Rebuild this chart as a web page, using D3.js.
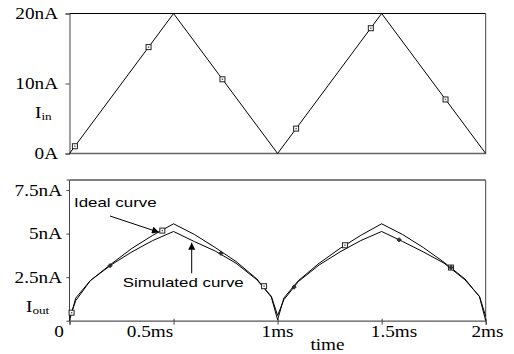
<!DOCTYPE html>
<html>
<head>
<meta charset="utf-8">
<script src="https://cdn.jsdelivr.net/npm/d3@7"></script>
<style>
  html, body { margin: 0; padding: 0; background: #fff; }
  svg { display: block; }
  .serif { font-family: "Liberation Serif", "Times New Roman", serif; fill: #000; }
  .sans { font-family: "Liberation Sans", Arial, sans-serif; fill: #000; }
</style>
</head>
<body>
<svg id="chart" width="514" height="354"></svg>
<script>
// ---- Input current: triangle wave (nA) ----
const inTimes  = [0, 0.5, 1.0, 1.5, 2.0];           // ms
const inValues = [0, 20, 0, 20, 0];                  // nA
const inMarkTimes  = [0.026, 0.38, 0.735, 1.089, 1.448, 1.807];
const inMarkValues = [1.04, 15.2, 10.6, 3.56, 17.9, 7.72];

// ---- Output current (nA) ----
const outTimes = [0, 0.03, 0.1, 0.2, 0.3, 0.4, 0.5, 0.6, 0.7, 0.8, 0.9, 0.97, 1.0,
                  1.03, 1.1, 1.2, 1.3, 1.4, 1.5, 1.6, 1.7, 1.8, 1.9, 1.97, 2.0];
const idealValues = [0, 1.3, 2.3, 3.25, 4.15, 4.9, 5.56, 4.95, 4.2, 3.4, 2.4, 1.35, 0.05,
                     1.3, 2.3, 3.3, 4.15, 4.9, 5.56, 4.95, 4.2, 3.35, 2.4, 1.38, 0];
const simValues   = [0.15, 1.15, 2.3, 3.2, 3.95, 4.6, 5.12, 4.54, 4.0, 3.3, 2.35, 1.4, 0.3,
                     1.2, 2.25, 3.2, 3.95, 4.6, 5.12, 4.55, 3.95, 3.3, 2.35, 1.4, 0.25];
const idealMarkTimes  = [0.01, 0.446, 0.935, 1.324, 1.833];
const idealMarkValues = [0.46, 5.17, 1.98, 4.33, 3.05];
const simMarkTimes    = [0.195, 0.728, 1.079, 1.584, 1.833];
const simMarkValues   = [3.16, 3.87, 1.93, 4.64, 3.05];

// ---- Tick labels ----
const inTickValues  = [0, 10, 20];
const inTickLabels  = ["0A", "10nA", "20nA"];
const outTickValues = [0, 2.5, 5, 7.5];
const outTickLabels = ["", "2.5nA", "5nA", "7.5nA"];
const timeTickValues = [0, 0.5, 1, 1.5, 2];
const timeTickLabels = ["0", "0.5ms", "1ms", "1.5ms", "2ms"];

const svg = d3.select("#chart");

const x = d3.scaleLinear().domain([0, 2]).range([69.5, 485.7]);
const yIn = d3.scaleLinear().domain([0, 20]).range([153.5, 13.5]);
const yOut = d3.scaleLinear().domain([0, 7.5]).range([320.7, 190]);
const outTop = 180;

const SERIF_SX = 1.2, SANS_SX = 1.3;
const axisColor = "#444";

function stretchedText(g, cls, sx, txt, px, py, anchor, size) {
  return g.append("text")
    .attr("class", cls)
    .attr("transform", `translate(${px},${py}) scale(${sx},1)`)
    .attr("text-anchor", anchor)
    .attr("font-size", size)
    .text(txt);
}

// ================= Top panel: I_in =================
const topPanel = svg.append("g");
// frame
topPanel.append("line").attr("x1", x(0)).attr("x2", x(2)).attr("y1", yIn(20)).attr("y2", yIn(20))
  .attr("stroke", "#000").attr("stroke-width", 1);
topPanel.append("line").attr("x1", x(2)).attr("x2", x(2)).attr("y1", yIn(20)).attr("y2", yIn(0))
  .attr("stroke", axisColor).attr("stroke-width", 1);
topPanel.append("line").attr("x1", x(0)).attr("x2", x(2)).attr("y1", yIn(0)).attr("y2", yIn(0))
  .attr("stroke", "#666").attr("stroke-width", 1.5);

const yInAxis = topPanel.append("g").attr("transform", `translate(${x(0)},0)`)
  .call(d3.axisLeft(yIn).tickValues(inTickValues).tickSize(4).tickFormat(() => ""));
yInAxis.select(".domain").attr("stroke", axisColor);
yInAxis.selectAll(".tick line").attr("stroke", axisColor);
inTickValues.forEach((v, i) => {
  stretchedText(topPanel, "serif", SERIF_SX, inTickLabels[i], 58, yIn(v) + 5.5, "end", 16);
});
// I_in label
const iin = topPanel.append("text").attr("class", "serif")
  .attr("transform", `translate(35,118) scale(${SERIF_SX},1)`).attr("font-size", 16);
iin.append("tspan").text("I");
iin.append("tspan").attr("font-size", 11).attr("dy", 2).text("in");

const inLine = d3.line().x(d => x(d[0])).y(d => yIn(d[1]));
topPanel.append("path")
  .datum(inTimes.map((t, i) => [t, inValues[i]]))
  .attr("d", inLine).attr("fill", "none").attr("stroke", "#000").attr("stroke-width", 1);

function squareMarks(g, ts, vs, ys) {
  const m = g.selectAll(null).data(ts.map((t, i) => [t, vs[i]])).enter().append("g")
    .attr("transform", d => `translate(${x(d[0])},${ys(d[1])})`);
  m.append("rect").attr("x", -2.5).attr("y", -2.5).attr("width", 5).attr("height", 5)
    .attr("fill", "#fff").attr("stroke", "#222").attr("stroke-width", 1);
  m.append("rect").attr("x", -0.7).attr("y", -0.7).attr("width", 1.4).attr("height", 1.4)
    .attr("fill", "#555");
}
squareMarks(topPanel, inMarkTimes, inMarkValues, yIn);

// ================= Bottom panel: I_out =================
const bot = svg.append("g");
bot.append("line").attr("x1", x(0)).attr("x2", x(2)).attr("y1", outTop).attr("y2", outTop)
  .attr("stroke", "#000").attr("stroke-width", 1);
bot.append("line").attr("x1", x(2)).attr("x2", x(2)).attr("y1", outTop).attr("y2", yOut(0))
  .attr("stroke", axisColor).attr("stroke-width", 1);

const yOutAxis = bot.append("g").attr("transform", `translate(${x(0)},0)`)
  .call(d3.axisLeft(yOut).tickValues(outTickValues).tickSize(3).tickFormat(() => ""));
yOutAxis.select(".domain").attr("d", `M-3,${outTop}H0V${yOut(0)}`).attr("stroke", axisColor);
yOutAxis.selectAll(".tick line").attr("stroke", axisColor);
outTickValues.forEach((v, i) => {
  if (outTickLabels[i]) stretchedText(bot, "serif", SERIF_SX, outTickLabels[i], 62, yOut(v) + 5.5, "end", 16);
});
const iout = bot.append("text").attr("class", "serif")
  .attr("transform", `translate(26,311.7) scale(${SERIF_SX},1)`).attr("font-size", 16);
iout.append("tspan").text("I");
iout.append("tspan").attr("font-size", 11).attr("dy", 2).text("out");

const xAxis = bot.append("g").attr("transform", `translate(0,${yOut(0)})`)
  .call(d3.axisBottom(x).tickValues(timeTickValues).tickSize(4).tickFormat(() => ""));
xAxis.select(".domain").attr("stroke", "#555").attr("stroke-width", 1.2);
xAxis.selectAll(".tick line").attr("stroke", axisColor).attr("y1", -2);
// per-label horizontal nudges of the time labels
const timeLabelShift = [-10.5, -23.5, 0, 12.4, 1.8];
timeTickValues.forEach((v, i) => {
  stretchedText(bot, "serif", SERIF_SX, timeTickLabels[i], x(v) + timeLabelShift[i], 336.7, "middle", 16);
});
stretchedText(bot, "serif", SERIF_SX, "time", 327.5, 350, "middle", 16);

const outLine = yv => d3.line().x((d, i) => x(outTimes[i])).y(d => yOut(d))(yv);
bot.append("path").attr("d", outLine(idealValues))
  .attr("fill", "none").attr("stroke", "#000").attr("stroke-width", 1);
bot.append("path").attr("d", outLine(simValues))
  .attr("fill", "none").attr("stroke", "#000").attr("stroke-width", 1);

squareMarks(bot, idealMarkTimes, idealMarkValues, yOut);
bot.selectAll(null).data(simMarkTimes.map((t, i) => [t, simMarkValues[i]])).enter()
  .append("path")
  .attr("d", "M0,-2.2L2.2,0L0,2.2L-2.2,0Z")
  .attr("transform", d => `translate(${x(d[0])},${yOut(d[1])})`)
  .attr("fill", "#333").attr("stroke", "#000").attr("stroke-width", 0.6);

// annotations
const defs = svg.append("defs");
defs.append("marker").attr("id", "arrowhead").attr("viewBox", "0 0 10 10")
  .attr("refX", 10).attr("refY", 5).attr("markerWidth", 9).attr("markerHeight", 7)
  .attr("markerUnits", "userSpaceOnUse").attr("orient", "auto")
  .append("path").attr("d", "M0,0L10,5L0,10Z").attr("fill", "#000");

stretchedText(bot, "sans", SANS_SX, "Ideal curve", 74, 206.7, "start", 13);
bot.append("line").attr("x1", 110).attr("y1", 216).attr("x2", 159).attr("y2", 232.3)
  .attr("stroke", "#000").attr("stroke-width", 1).attr("marker-end", "url(#arrowhead)");

stretchedText(bot, "sans", SANS_SX, "Simulated curve", 122.7, 286.7, "start", 13);
bot.append("line").attr("x1", 191.7).attr("y1", 273.3).attr("x2", 191.7).attr("y2", 242.7)
  .attr("stroke", "#000").attr("stroke-width", 1).attr("marker-end", "url(#arrowhead)");
</script>
</body>
</html>
